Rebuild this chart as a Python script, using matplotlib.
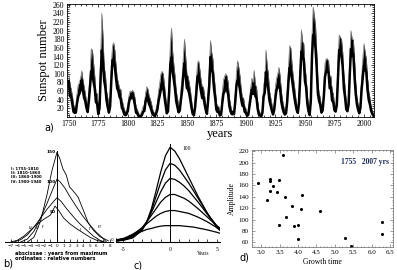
import matplotlib
matplotlib.use("Agg")
import numpy as np
import matplotlib.pyplot as plt
from matplotlib.ticker import MultipleLocator

# ---- a) yearly sunspot numbers 1750-2008 (mean and monthly high)
years = list(range(1750, 2009))
ssn = [
    83.4, 47.7, 47.8, 30.7, 12.2, 9.6, 10.2, 32.4, 47.6, 54.0,
    62.9, 85.9, 61.2, 45.1, 36.4, 20.9, 11.4, 37.8, 69.8, 106.1,
    100.8, 81.6, 66.5, 34.8, 30.6, 7.0, 19.8, 92.5, 154.4, 125.9,
    84.8, 68.1, 38.5, 22.8, 10.2, 24.1, 82.9, 132.0, 130.9, 118.1,
    89.9, 66.6, 60.0, 46.9, 41.0, 21.3, 16.0, 6.4, 4.1, 6.8,
    14.5, 34.0, 45.0, 43.1, 47.5, 42.2, 28.1, 10.1, 8.1, 2.5,
    0.0, 1.4, 5.0, 12.2, 13.9, 35.4, 45.8, 41.0, 30.1, 23.9,
    15.6, 6.6, 4.0, 1.8, 8.5, 16.6, 36.3, 49.6, 64.2, 67.0,
    70.9, 47.8, 27.5, 8.5, 13.2, 56.9, 121.5, 138.3, 103.2, 85.7,
    64.6, 36.7, 24.2, 10.7, 15.0, 40.1, 61.5, 98.5, 124.7, 96.3,
    66.6, 64.5, 54.1, 39.0, 20.6, 6.7, 4.3, 22.7, 54.8, 93.8,
    95.8, 77.2, 59.1, 44.0, 47.0, 30.5, 16.3, 7.3, 37.6, 74.0,
    139.0, 111.2, 101.6, 66.2, 44.7, 17.0, 11.3, 12.4, 3.4, 6.0,
    32.3, 54.3, 59.7, 63.7, 63.5, 52.2, 25.4, 13.1, 6.8, 6.3,
    7.1, 35.6, 73.0, 85.1, 78.0, 64.0, 41.8, 26.2, 26.7, 12.1,
    9.5, 2.7, 5.0, 24.4, 42.0, 63.5, 53.8, 62.0, 48.5, 43.9,
    18.6, 5.7, 3.6, 1.4, 9.6, 47.4, 57.1, 103.9, 80.6, 63.6,
    37.6, 26.1, 14.2, 5.8, 16.7, 44.3, 63.9, 69.0, 77.8, 64.9,
    35.7, 21.2, 11.1, 5.7, 8.7, 36.1, 79.7, 114.4, 109.6, 88.8,
    67.8, 47.5, 30.6, 16.3, 9.6, 33.2, 92.6, 151.6, 136.3, 134.7,
    83.9, 69.4, 31.5, 13.9, 4.4, 38.0, 141.7, 190.2, 184.8, 159.0,
    112.3, 53.9, 37.6, 27.9, 10.2, 15.1, 47.0, 93.8, 105.9, 105.5,
    104.5, 66.6, 68.9, 38.0, 34.5, 15.5, 12.6, 27.5, 92.5, 155.4,
    154.6, 140.4, 115.9, 66.6, 45.9, 17.9, 13.4, 29.4, 100.2, 157.6,
    142.6, 145.7, 94.3, 54.6, 29.9, 17.5, 8.6, 21.5, 64.3, 93.3,
    119.6, 111.0, 104.0, 63.7, 40.4, 29.8, 15.2, 7.5, 2.9,
]
ssn_hi = [
    100, 75, 65, 50, 30, 22, 25, 55, 75, 80,
    90, 107, 85, 70, 55, 35, 25, 60, 100, 158,
    155, 125, 95, 55, 55, 20, 45, 140, 240, 185,
    115, 100, 60, 45, 25, 45, 120, 165, 172, 155,
    120, 90, 80, 65, 65, 40, 30, 18, 12, 15,
    28, 50, 60, 58, 62, 58, 45, 22, 18, 10,
    3, 8, 15, 25, 28, 55, 70, 65, 50, 42,
    32, 18, 12, 8, 20, 32, 60, 78, 100, 106,
    100, 75, 48, 20, 30, 90, 170, 206, 150, 120,
    95, 60, 45, 25, 30, 65, 90, 140, 180, 140,
    100, 95, 80, 62, 38, 18, 12, 45, 85, 125,
    130, 110, 85, 70, 70, 50, 30, 18, 60, 110,
    177, 150, 135, 95, 70, 32, 25, 25, 10, 15,
    55, 85, 95, 100, 95, 80, 45, 28, 15, 15,
    15, 55, 105, 130, 115, 95, 65, 45, 45, 25,
    20, 8, 12, 45, 65, 90, 80, 108, 75, 70,
    35, 15, 10, 5, 22, 75, 85, 155, 120, 100,
    60, 45, 30, 15, 30, 70, 90, 100, 115, 95,
    60, 40, 25, 15, 20, 60, 115, 165, 160, 125,
    95, 75, 50, 30, 20, 55, 130, 202, 175, 170,
    115, 95, 50, 28, 12, 65, 190, 255, 235, 210,
    150, 80, 55, 45, 20, 25, 70, 125, 135, 135,
    130, 95, 95, 60, 55, 30, 25, 45, 130, 190,
    185, 180, 150, 95, 70, 30, 25, 45, 140, 200,
    180, 180, 135, 80, 45, 30, 18, 35, 90, 135,
    170, 150, 135, 90, 60, 45, 25, 15, 8,
]

# ---- b) average cycle shapes (scanned figure)
b_x1 = [-4.5, -3.5, -2.5, -1.5, -0.8, 0, 0.4, 0.9, 1.4, 1.9, 2.4, 3.2, 4, 4.7, 5.5, 6.5, 7.8]
b_y1 = [0, 8, 35, 80, 118, 150, 140, 122, 112, 92, 86, 75, 53, 33, 20, 9, 2]
b_x2 = [-5.5, -4.5, -3.5, -2.5, -1.5, -0.5, 0, 0.5, 1.2, 2, 3, 4, 5, 6, 7, 7.5]
b_y2 = [0, 5, 18, 40, 65, 92, 105, 100, 90, 75, 58, 42, 28, 16, 6, 0]
b_x3 = [-6.5, -5.5, -4.5, -3.5, -2.5, -1.5, -0.5, 0, 0.6, 1.5, 2.5, 3.5, 4.5, 5.5, 6.5, 7.2]
b_y3 = [0, 4, 12, 25, 40, 55, 68, 74, 68, 55, 42, 30, 20, 10, 3, 0]
b_x4 = [-7, -6, -5, -4, -3, -2, -1, -0.3, 0.3, 1, 2, 3, 4, 5, 6, 7]
b_y4 = [0, 3, 10, 20, 30, 38, 45, 60, 52, 40, 30, 22, 15, 8, 3, 0]
b_legend = ["I: 1755-1810", "II: 1810-1860", "III: 1860-1900", "IV: 1900-1940"]

# ---- c) model cycle profiles
c_x = [-6, -5, -4, -3, -2.5, -2, -1.5, -1, -0.5, 0, 0.5, 1, 1.5, 2, 2.5, 3, 4, 5, 6]
c_curves = [
    [0.5, 1.5, 4, 12, 21, 35, 54, 74, 91, 100, 96, 88, 78, 68, 58, 48, 30, 15, 6],
    [0.6, 1.8, 5, 13, 21, 33, 48, 63, 76, 83, 81, 76, 69, 62, 54, 46, 30, 16, 7],
    [0.8, 2.2, 6, 14, 21, 31, 42, 53, 62, 67, 66, 63, 59, 54, 48, 42, 29, 17, 8],
    [1, 2.5, 7, 15, 21, 28, 35, 42, 47, 50, 50, 48, 46, 43, 39, 35, 26, 17, 9],
    [1.2, 3, 8, 14, 19, 23, 27, 30, 32, 33, 33, 32, 31, 30, 28, 26, 21, 15, 9],
    [1.5, 3.5, 7, 11, 13, 14, 15.5, 16.5, 17, 17, 17, 17, 16.5, 16, 15.5, 14.5, 12.5, 10, 7],
]

# ---- d) amplitude vs growth time
growth = [2.92, 3.15, 3.25, 3.25, 3.25, 3.33, 3.42, 3.48, 3.58, 3.48, 3.65, 3.68,
          3.85, 3.9, 4.0, 4.0, 4.08, 4.1, 4.6, 5.27, 5.45, 6.27, 6.27]
amplitude = [165, 134, 171, 168, 150, 159, 148, 170, 214, 91, 139, 105,
             124, 89, 91, 66, 118, 144, 115, 68, 53, 96, 75]

W, H = 397, 270
fig = plt.figure(figsize=(W / 100, H / 100), dpi=100)
serif = ["Liberation Serif", "DejaVu Serif"]


def px(l, t, r, b):
    return [l / W, 1 - b / H, (r - l) / W, (b - t) / H]


# ---------------- a)
ax = fig.add_axes(px(67, 4, 374, 117))
ax.fill_between(years, ssn, ssn_hi, color="black", lw=0)
ax.plot(years, ssn_hi, color="0.45", lw=0.5)
ax.plot(years, ssn, color="black", lw=1.8)
ax.set_xlim(1748.5, 2008.5)
ax.set_ylim(0, 262)
ax.xaxis.set_major_locator(MultipleLocator(25))
ax.xaxis.set_minor_locator(MultipleLocator(5))
ax.yaxis.set_major_locator(MultipleLocator(20))
ax.yaxis.set_minor_locator(MultipleLocator(5))
ax.set_yticks(range(20, 261, 20))
ax.tick_params(which="both", direction="in", top=True, right=True, width=0.5)
ax.tick_params(which="major", length=2.5, labelsize=5.5, pad=2)
ax.tick_params(which="minor", length=1.2)
for lab in ax.get_xticklabels() + ax.get_yticklabels():
    lab.set_family(serif)
for s in ax.spines.values():
    s.set_linewidth(0.6)
ax.set_ylabel("Sunspot number", family=serif, fontsize=9, labelpad=2)
ax.set_xlabel("years", family=serif, fontsize=9, labelpad=0)
fig.text(44 / W, 1 - 128 / H, "a)", fontsize=7, va="center")

# ---------------- b)
bx = fig.add_axes(px(5, 145, 113, 242))
for xs, ys in [(b_x1, b_y1), (b_x2, b_y2), (b_x3, b_y3), (b_x4, b_y4)]:
    bx.plot(xs, ys, color="black", lw=0.6)
bx.axvline(0, ymax=152 / 162, color="black", lw=0.7)
bx.set_xlim(-7.9, 8.5)
bx.set_ylim(0, 162)
for side in ["top", "right", "left"]:
    bx.spines[side].set_visible(False)
bx.spines["bottom"].set_linewidth(0.7)
bx.set_yticks([])
bx.set_xticks(range(-7, 9))
bx.tick_params(axis="x", direction="in", length=2, width=0.5, labelsize=3, pad=1.5)
for yy, tt in [(150, "150"), (100, "100"), (50, "50")]:
    bx.text(-0.2, yy, tt, fontsize=3.2, ha="right", va="center", fontweight="bold")
for i, tt in enumerate(b_legend):
    bx.text(-7.0, 122 - i * 7, tt, fontsize=2.8, fontweight="bold", va="center")
for xx, yy, tt in [(-4.3, 22, "IV"), (-3.2, 22, "III"), (-2.3, 23, "II"),
                   (3.4, 19, "I"), (4.9, 20, "II"), (6.2, 23, "III")]:
    bx.text(xx, yy, tt, fontsize=3, style="italic")
fig.text(116 / W, 1 - 242 / H, "k", fontsize=4)
fig.text(15 / W, 1 - 253 / H, "abscissae : years from maximum", fontsize=3.6, fontweight="bold", va="center")
fig.text(15 / W, 1 - 258 / H, "ordinates : relative numbers", fontsize=3.6, fontweight="bold", va="center")
fig.text(3 / W, 1 - 264 / H, "b)", fontsize=7, va="center")

# ---------------- c)
cx = fig.add_axes(px(116, 140, 220, 241.7))
for ys in c_curves:
    cx.plot(c_x, ys, color="black", lw=0.9)
cx.axvline(0, ymax=103 / 107.7, color="black", lw=0.7)
cx.set_xlim(-5.8, 5.35)
cx.set_ylim(0, 107.7)
for side in ["top", "right", "left"]:
    cx.spines[side].set_visible(False)
cx.spines["bottom"].set_linewidth(0.8)
cx.set_yticks([])
cx.set_xticks(range(-5, 6))
cx.set_xticklabels(["-5", "", "", "", "", "0", "", "", "", "", "5"], family=serif)
cx.tick_params(axis="x", direction="in", length=2.5, width=0.5, labelsize=4, pad=4)
cx.text(1.3, 99, "100", fontsize=4, family=serif, va="center")
cx.text(2.9, -12, "Years", fontsize=4, family=serif, va="center")
fig.text(111 / W, 1 - 241 / H, "0.", fontsize=3)
fig.text(134 / W, 1 - 266 / H, "c)", fontsize=7, va="center")

# ---------------- d)
dx = fig.add_axes(px(252, 150, 393, 247))
dx.scatter(growth, amplitude, s=5, color="black", lw=0)
dx.set_xlim(2.75, 6.58)
dx.set_ylim(52, 222)
dx.xaxis.set_major_locator(MultipleLocator(0.5))
dx.xaxis.set_minor_locator(MultipleLocator(0.1))
dx.yaxis.set_major_locator(MultipleLocator(20))
dx.yaxis.set_minor_locator(MultipleLocator(5))
dx.set_xticks(np.arange(3.0, 6.51, 0.5))
dx.tick_params(which="both", direction="in", top=True, right=True, width=0.4, colors="0.3")
dx.tick_params(which="major", length=2, labelsize=5, pad=2, labelcolor="black")
dx.tick_params(which="minor", length=1)
for lab in dx.get_xticklabels() + dx.get_yticklabels():
    lab.set_family(serif)
for s in dx.spines.values():
    s.set_linewidth(0.5)
    s.set_color("0.4")
dx.set_xlabel("Growth time", family=serif, fontsize=5.5, labelpad=2)
dx.set_ylabel("Amplitude", family=serif, fontsize=5.5, labelpad=2)
dx.text(0.97, 0.88, "1755   2007 yrs", transform=dx.transAxes, ha="right", va="center",
        family=serif, fontsize=5.5, fontweight="bold", color="#1f2f5f")
fig.text(239 / W, 1 - 257 / H, "d)", fontsize=7, va="center")

fig.savefig("out.png", dpi=100)
